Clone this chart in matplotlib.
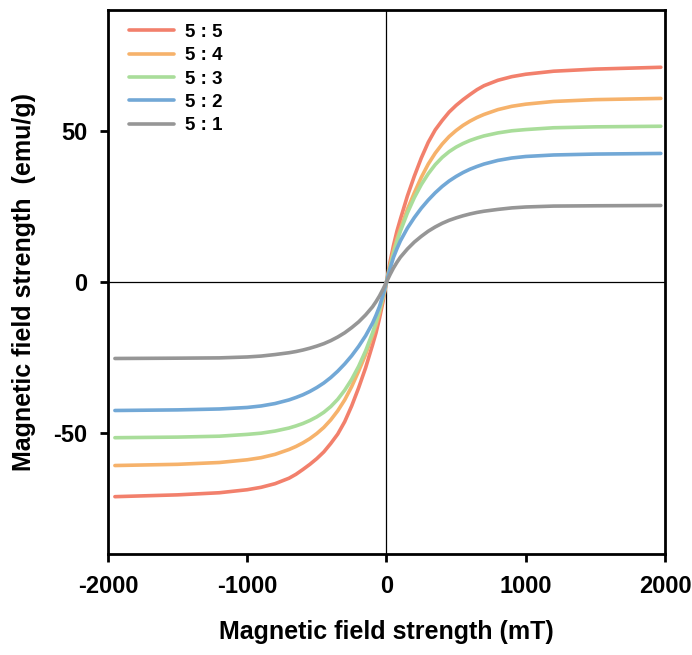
import matplotlib
matplotlib.use('Agg')
import matplotlib.pyplot as plt

plt.rcParams['font.family'] = ['Liberation Sans', 'DejaVu Sans']
plt.rcParams['font.weight'] = 'bold'
plt.rcParams['axes.unicode_minus'] = False

# field values (mT)
field = [-1950, -1500, -1200, -1000, -900, -800, -700, -650, -600, -550, -500,
         -450, -400, -350, -300, -250, -200, -150, -100, -75, -50, -25,
         0, 25, 50, 75, 100, 150, 200, 250, 300, 350, 400, 450, 500,
         550, 600, 650, 700, 800, 900, 1000, 1200, 1500, 1970]

m_55 = [-71.0, -70.4, -69.7, -68.7, -67.9, -66.7, -64.9, -63.6, -62.0, -60.3, -58.4,
        -56.2, -53.4, -50.3, -46.2, -41.0, -35.0, -28.4, -20.8, -16.8, -12.0, -6.5,
        0.0, 6.5, 12.0, 16.8, 20.8, 28.4, 35.0, 41.0, 46.2, 50.3, 53.4, 56.2, 58.4,
        60.3, 62.0, 63.6, 64.9, 66.7, 67.9, 68.7, 69.7, 70.4, 71.0]
m_54 = [-60.7, -60.3, -59.7, -58.8, -58.1, -57.0, -55.4, -54.4, -53.2, -51.8, -50.1,
        -48.1, -45.6, -42.6, -39.0, -34.6, -29.5, -24.0, -17.6, -14.2, -10.3, -5.5,
        0.0, 5.5, 10.3, 14.2, 17.6, 24.0, 29.5, 34.6, 39.0, 42.6, 45.6, 48.1, 50.1,
        51.8, 53.2, 54.4, 55.4, 57.0, 58.1, 58.8, 59.7, 60.3, 60.7]
m_53 = [-51.5, -51.3, -51.0, -50.4, -50.0, -49.3, -48.3, -47.6, -46.8, -45.8, -44.6,
        -43.1, -41.2, -38.8, -35.8, -32.2, -27.9, -22.8, -16.8, -13.3, -9.3, -4.9,
        0.0, 4.9, 9.3, 13.3, 16.8, 22.8, 27.9, 32.2, 35.8, 38.8, 41.2, 43.1, 44.6,
        45.8, 46.8, 47.6, 48.3, 49.3, 50.0, 50.4, 51.0, 51.3, 51.5]
m_52 = [-42.5, -42.3, -42.0, -41.5, -41.0, -40.2, -39.0, -38.2, -37.3, -36.2, -34.9,
        -33.4, -31.6, -29.5, -27.1, -24.4, -21.3, -17.8, -13.6, -11.0, -8.1, -4.3,
        0.0, 4.3, 8.1, 11.0, 13.6, 17.8, 21.3, 24.4, 27.1, 29.5, 31.6, 33.4, 34.9,
        36.2, 37.3, 38.2, 39.0, 40.2, 41.0, 41.5, 42.0, 42.3, 42.5]
m_51 = [-25.3, -25.2, -25.1, -24.8, -24.5, -24.0, -23.4, -23.0, -22.5, -21.9, -21.2,
        -20.4, -19.4, -18.2, -16.8, -15.1, -13.2, -10.9, -8.2, -6.5, -4.6, -2.4,
        0.0, 2.4, 4.6, 6.5, 8.2, 10.9, 13.2, 15.1, 16.8, 18.2, 19.4, 20.4, 21.2,
        21.9, 22.5, 23.0, 23.4, 24.0, 24.5, 24.8, 25.1, 25.2, 25.3]

labels = ['5 : 5', '5 : 4', '5 : 3', '5 : 2', '5 : 1']
colors = ['#F2806C', '#F6B26B', '#A9DD9A', '#72A8D6', '#969696']
series = [m_55, m_54, m_53, m_52, m_51]

fig = plt.figure(figsize=(6.92, 6.55), dpi=100)
ax = fig.add_axes([0.156, 0.154, 0.805, 0.831])

ax.axhline(0, color='black', lw=0.9, zorder=1)
ax.axvline(0, color='black', lw=0.9, zorder=1)

for ys, c, lab in zip(series, colors, labels):
    ax.plot(field, ys, color=c, lw=2.6, label=lab, solid_capstyle='round')

ax.set_xlim(-2000, 2000)
ax.set_ylim(-90, 90)
ax.set_xticks([-2000, -1000, 0, 1000, 2000])
ax.set_yticks([-50, 0, 50])

for s in ax.spines.values():
    s.set_linewidth(2)
ax.tick_params(direction='out', length=6, width=2, labelsize=17, pad=9)
for t in ax.get_xticklabels() + ax.get_yticklabels():
    t.set_fontweight('bold')

ax.set_xlabel('Magnetic field strength (mT)', fontsize=18, fontweight='bold', labelpad=16)
ax.set_ylabel('Magnetic field strength  (emu/g)', fontsize=18, fontweight='bold', labelpad=12)

leg = ax.legend(loc='upper left', frameon=False, handlelength=2.4, handletextpad=0.55,
                labelspacing=0.33, borderaxespad=0.0, bbox_to_anchor=(0.025, 0.988),
                prop={'weight': 'bold', 'size': 13.5})

fig.savefig('out.png', dpi=100)
